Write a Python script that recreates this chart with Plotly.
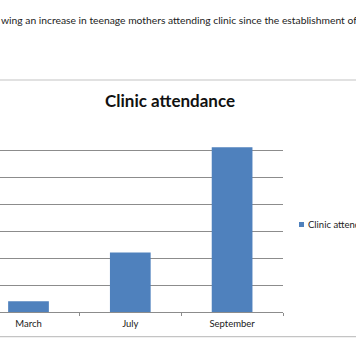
import plotly.graph_objects as go

categories = ["March", "July", "September"]
values = [4, 22, 61]
series_name = "Clinic attendance"
chart_title = "Clinic attendance"
caption = "wing an increase in teenage mothers attending clinic since the establishment of the"

W, H = 356, 364
ml, mr, mt, mb = 0, 73, 123, 52
plot_h = H - mt - mb
bar_color = "#4f81bd"

def py(pix):
    # pixel row -> paper y
    return (H - mb - pix) / plot_h

def px(pix):
    return (pix - ml) / (W - ml - mr)

fig = go.Figure()
fig.add_trace(go.Bar(
    x=categories, y=values, name=series_name,
    marker=dict(color=bar_color, line=dict(width=0)),
    width=0.4, showlegend=False,
))

fig.update_layout(
    width=W, height=H,
    margin=dict(l=ml, r=mr, t=mt, b=mb, pad=0, autoexpand=False),
    paper_bgcolor="white", plot_bgcolor="white",
    font=dict(family="Lato, sans-serif", color="#1a1a1a"),
    showlegend=False,
)
fig.update_xaxes(
    type="category", range=[-0.28, 2.5],
    showline=True, linecolor="#8c8c8c", linewidth=1,
    ticks="outside", tickson="boundaries", ticklen=3, tickcolor="#8c8c8c",
    tickfont=dict(size=9.5, color="#1a1a1a"), ticklabelstandoff=3,
    showgrid=False, zeroline=False,
)
fig.update_yaxes(
    range=[0, 70], dtick=10, showticklabels=False,
    showgrid=True, gridcolor="#8c8c8c", gridwidth=1,
    zeroline=False, showline=False,
)

# chart border lines
for row in (80, 336.7):
    fig.add_shape(type="line", xref="paper", yref="paper",
                  x0=px(0), x1=px(W), y0=py(row), y1=py(row),
                  line=dict(color="#c4c4c4", width=1.2))

# legend (drawn manually: small square + label)
fig.add_shape(type="rect", xref="paper", yref="paper",
              x0=px(299), x1=px(304), y0=py(227), y1=py(222),
              fillcolor=bar_color, line=dict(width=0))
fig.add_annotation(text=series_name, xref="paper", yref="paper",
                   x=px(306), y=py(224.5), xanchor="left", yanchor="middle",
                   showarrow=False, font=dict(size=9.5, family="Lato, sans-serif", color="#222"))

fig.add_annotation(text=f"<b>{chart_title}</b>", xref="paper", yref="paper",
                   x=px(170), y=py(101), xanchor="center", yanchor="middle",
                   showarrow=False, font=dict(size=17, family="Lato, sans-serif", color="#111"))
fig.add_annotation(text=caption, xref="paper", yref="paper",
                   x=px(-1), y=py(20), xanchor="left", yanchor="middle",
                   showarrow=False, font=dict(size=10.3, family="Lato, sans-serif", color="#222"))

fig.write_html("out.html", config={"displayModeBar": False},
               post_script="document.body.style.margin='0';document.body.style.overflow='hidden';")
